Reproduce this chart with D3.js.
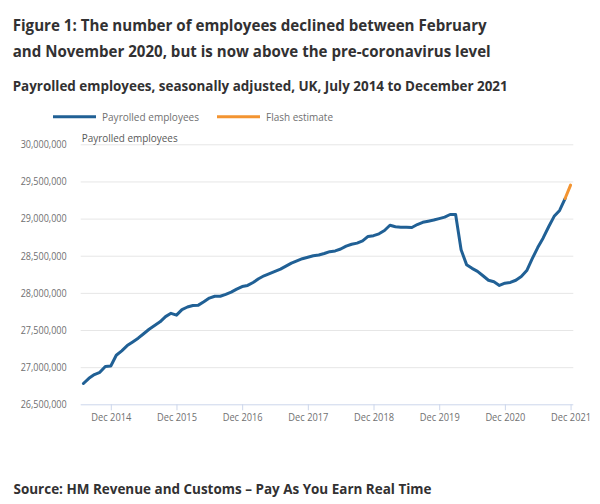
<!DOCTYPE html>
<html>
<head>
<meta charset="utf-8">
<script src="https://cdn.jsdelivr.net/npm/d3@7"></script>
<style>
  html, body { margin: 0; padding: 0; background: #fff; }
  svg { display: block; font-family: "Open Sans", sans-serif; }
</style>
</head>
<body>
<svg id="chart" width="600" height="504"></svg>
<script>
// ---- Data ----
const titleLines = [
  "Figure 1: The number of employees declined between February",
  "and November 2020, but is now above the pre-coronavirus level"
];
const subtitle = "Payrolled employees, seasonally adjusted, UK, July 2014 to December 2021";
const source = "Source: HM Revenue and Customs \u2013 Pay As You Earn Real Time";

const months = [
  "Jul 2014","Aug 2014","Sep 2014","Oct 2014","Nov 2014","Dec 2014",
  "Jan 2015","Feb 2015","Mar 2015","Apr 2015","May 2015","Jun 2015","Jul 2015","Aug 2015","Sep 2015","Oct 2015","Nov 2015","Dec 2015",
  "Jan 2016","Feb 2016","Mar 2016","Apr 2016","May 2016","Jun 2016","Jul 2016","Aug 2016","Sep 2016","Oct 2016","Nov 2016","Dec 2016",
  "Jan 2017","Feb 2017","Mar 2017","Apr 2017","May 2017","Jun 2017","Jul 2017","Aug 2017","Sep 2017","Oct 2017","Nov 2017","Dec 2017",
  "Jan 2018","Feb 2018","Mar 2018","Apr 2018","May 2018","Jun 2018","Jul 2018","Aug 2018","Sep 2018","Oct 2018","Nov 2018","Dec 2018",
  "Jan 2019","Feb 2019","Mar 2019","Apr 2019","May 2019","Jun 2019","Jul 2019","Aug 2019","Sep 2019","Oct 2019","Nov 2019","Dec 2019",
  "Jan 2020","Feb 2020","Mar 2020","Apr 2020","May 2020","Jun 2020","Jul 2020","Aug 2020","Sep 2020","Oct 2020","Nov 2020","Dec 2020",
  "Jan 2021","Feb 2021","Mar 2021","Apr 2021","May 2021","Jun 2021","Jul 2021","Aug 2021","Sep 2021","Oct 2021","Nov 2021","Dec 2021"
];

// Payrolled employees, Jul 2014 - Nov 2021
const payrolled = [
  26780000, 26850000, 26900000, 26930000, 27010000, 27015000,
  27160000, 27220000, 27290000, 27340000, 27390000, 27450000, 27510000, 27560000, 27610000, 27680000, 27725000, 27700000,
  27775000, 27810000, 27830000, 27835000, 27880000, 27930000, 27955000, 27955000, 27980000, 28010000, 28050000, 28085000,
  28100000, 28140000, 28190000, 28230000, 28260000, 28290000, 28320000, 28360000, 28400000, 28430000, 28460000, 28480000,
  28500000, 28510000, 28530000, 28555000, 28565000, 28590000, 28630000, 28655000, 28670000, 28700000, 28760000, 28770000,
  28795000, 28840000, 28910000, 28890000, 28885000, 28885000, 28880000, 28920000, 28950000, 28965000, 28980000, 29000000,
  29020000, 29055000, 29055000, 28580000, 28380000, 28330000, 28290000, 28230000, 28170000, 28150000, 28100000, 28130000,
  28140000, 28170000, 28220000, 28300000, 28460000, 28610000, 28740000, 28890000, 29030000, 29110000, 29270000
];
// Flash estimate, Nov 2021 - Dec 2021
const flashMonths = ["Nov 2021", "Dec 2021"];
const flash = [29270000, 29450000];

const yTicks = [26500000, 27000000, 27500000, 28000000, 28500000, 29000000, 29500000, 30000000];
const xTickLabels = ["Dec 2014","Dec 2015","Dec 2016","Dec 2017","Dec 2018","Dec 2019","Dec 2020","Dec 2021"];

const seriesNames = ["Payrolled employees", "Flash estimate"];
const colors = ["#206095", "#f39431"];

// ---- Chart ----
const svg = d3.select("#chart");
const plot = { left: 80.7, right: 573.3, top: 144.3, bottom: 404.3 };

const x = d3.scalePoint().domain(months).range([plot.left, plot.right]).padding(0.5);
const y = d3.scaleLinear().domain([26500000, 30000000]).range([plot.bottom, plot.top]);

// Titles
const titleWidths = [474, 478];
svg.append("g").selectAll("text").data(titleLines).join("text")
  .attr("x", 12.7).attr("y", (d, i) => 30.7 + i * 26.7)
  .attr("font-size", "15.8px").attr("font-weight", 700).attr("fill", "#323132")
  .attr("textLength", (d, i) => titleWidths[i]).attr("lengthAdjust", "spacingAndGlyphs")
  .text(d => d);
svg.append("text").attr("x", 12.7).attr("y", 90.7)
  .attr("font-size", "14.6px").attr("font-weight", 700).attr("fill", "#323132")
  .attr("textLength", 495).attr("lengthAdjust", "spacingAndGlyphs")
  .text(subtitle);

// Legend
const legend = svg.append("g");
const legendPos = [{ lx: 53, tx: 102, w: 97 }, { lx: 217, tx: 266, w: 67 }];
seriesNames.forEach((name, i) => {
  legend.append("line")
    .attr("x1", legendPos[i].lx).attr("x2", legendPos[i].lx + 43)
    .attr("y1", 116.7).attr("y2", 116.7)
    .attr("stroke", colors[i]).attr("stroke-width", 3);
  legend.append("text")
    .attr("x", legendPos[i].tx).attr("y", 120.7)
    .attr("font-size", "11.3px").attr("fill", "#707071")
    .attr("textLength", legendPos[i].w).attr("lengthAdjust", "spacingAndGlyphs")
    .text(name);
});

// Gridlines + y axis labels
const yAxis = d3.axisLeft(y).tickValues(yTicks)
  .tickSize(-(plot.right - plot.left))
  .tickPadding(14)
  .tickFormat(d3.format(","));
const gy = svg.append("g").attr("transform", `translate(${plot.left},0)`).call(yAxis);
gy.select(".domain").remove();
gy.selectAll(".tick line").attr("stroke", "#e6e6e6").attr("stroke-width", 1);
gy.selectAll(".tick text").attr("font-size", "10.6px").attr("fill", "#707071")
  .attr("font-family", "'Open Sans', sans-serif")
  .attr("textLength", 46).attr("lengthAdjust", "spacingAndGlyphs");
gy.selectAll(".tick").filter(d => d === 26500000).select("line").remove();

// Y axis title
svg.append("text").attr("x", 81.7).attr("y", 141.7)
  .attr("font-size", "11.3px").attr("fill", "#595959")
  .attr("textLength", 96).attr("lengthAdjust", "spacingAndGlyphs")
  .text("Payrolled employees");

// X axis
const xAxis = d3.axisBottom(x).tickValues(xTickLabels).tickSize(6).tickPadding(3);
const gx = svg.append("g").attr("transform", `translate(0,${plot.bottom})`).call(xAxis);
gx.select(".domain").attr("stroke", "#ccd6eb").attr("d", `M${plot.left},0.5H${plot.right}`);
gx.selectAll(".tick line").attr("stroke", "#ccd6eb");
gx.selectAll(".tick text").attr("font-size", "10.6px").attr("fill", "#707071")
  .attr("font-family", "'Open Sans', sans-serif")
  .attr("textLength", 40).attr("lengthAdjust", "spacingAndGlyphs");

// Lines
const line = d3.line().x(d => x(d[0])).y(d => y(d[1])).curve(d3.curveLinear);
svg.append("path")
  .datum(payrolled.map((v, i) => [months[i], v]))
  .attr("fill", "none").attr("stroke", colors[0]).attr("stroke-width", 3)
  .attr("stroke-linejoin", "round").attr("stroke-linecap", "round")
  .attr("d", line);
svg.append("path")
  .datum(flash.map((v, i) => [flashMonths[i], v]))
  .attr("fill", "none").attr("stroke", colors[1]).attr("stroke-width", 3)
  .attr("stroke-linejoin", "round").attr("stroke-linecap", "round")
  .attr("d", line);

// Source
svg.append("text").attr("x", 13.5).attr("y", 494)
  .attr("font-size", "14.2px").attr("font-weight", 700).attr("fill", "#323132")
  .attr("textLength", 418).attr("lengthAdjust", "spacingAndGlyphs")
  .text(source);
</script>
</body>
</html>
